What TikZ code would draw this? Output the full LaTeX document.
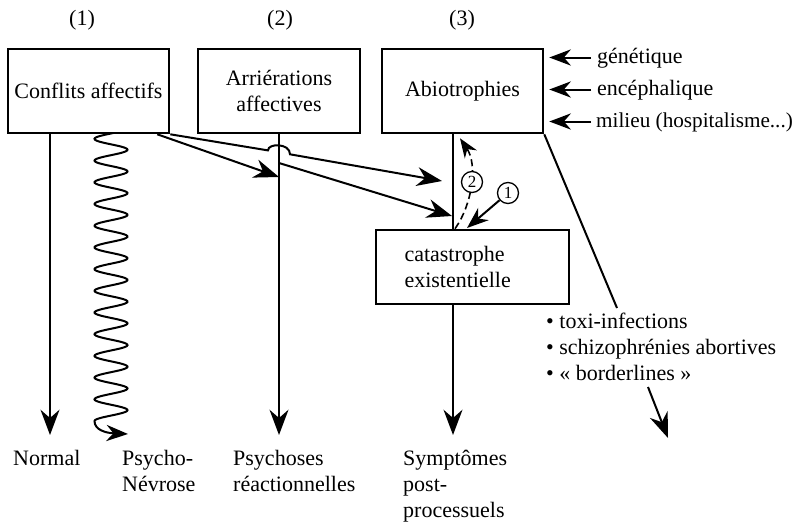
\documentclass[tikz,border=0pt]{standalone}
\usepackage{fontspec}
\setmainfont{Liberation Serif}
\usetikzlibrary{arrows.meta,calc}
\begin{document}
\begin{tikzpicture}[x=1pt,y=-1pt,
  txt/.style={font=\fontsize{22}{26}\selectfont, inner sep=0pt},
  box/.style={draw, line width=2.6pt, txt, align=center},
  ln/.style={line width=2pt},
  arr/.style={ln, -{Stealth[scale=2.1]}},
  sarr/.style={ln, -{Stealth[scale=1.8]}},
  darr/.style={line width=1.6pt, dash pattern=on 7pt off 4pt, -{Stealth[scale=1.9]}},
  circ/.style={circle, draw, solid, fill=white, line width=1.3pt, minimum size=21pt, inner sep=0pt, font=\fontsize{17}{17}\selectfont}
]
\useasboundingbox (0,0) rectangle (798,525);

% column numbers
\node[txt] (n1) at (82,20) {(1)};
\node[txt] (n2) at (280,20) {(2)};
\node[txt] (n3) at (462,20) {(3)};

% boxes
\node[box, minimum width=161pt, minimum height=84pt] (b1) at (88.5,91) {Conflits affectifs};
\node[box, minimum width=162pt, minimum height=84pt] (b2) at (279,91) {Arriérations\\affectives};
\node[box, minimum width=161pt, minimum height=84pt] (b3) at (462.5,91) {Abiotrophies};
\node[box, align=left, text width=136pt, minimum width=193pt, minimum height=74pt] (b4) at (472.5,267) {catastrophe\\existentielle};

% causes of box 3
\node[txt, anchor=base west] (gen) at (597,63) {génétique};
\node[txt, anchor=base west] (enc) at (597,95) {encéphalique};
\node[txt, anchor=base west, font=\fontsize{21.2}{26}\selectfont] (mil) at (596,127) {milieu (hospitalisme...)};
\draw[sarr] ($(gen.base west)+(-6,-5.5)$) -- ($(b3.east |- gen.base west)+(5,-5.5)$);
\draw[sarr] ($(enc.base west)+(-6,-5.5)$) -- ($(b3.east |- enc.base west)+(5,-5.5)$);
\draw[sarr] ($(mil.base west)+(-5,-5.5)$) -- ($(b3.east |- mil.base west)+(5,-5.5)$);

% bullet list
\node[txt, anchor=north west, align=left] (lst) at (546,313) {• toxi-infections\\• schizophrénies abortives\\• «~borderlines~»};

% bottom labels
\node[txt, anchor=base west] (normal) at (13,465) {Normal};
\node[txt, anchor=north west, align=left] (psy) at (122,450) {Psycho-\\Névrose};
\node[txt, anchor=north west, align=left] (pr) at (233,450) {Psychoses\\réactionnelles};
\node[txt, anchor=north west, align=left] (sym) at (403,450) {Symptômes\\post-\\processuels};

% coordinates
\coordinate (e1) at (50,435);
\coordinate (e2) at (279,435);
\coordinate (e4) at (453,435);
\coordinate (m2) at (279,177);
\coordinate (s2) at (279,163);
\coordinate (t3) at (442,181);
\coordinate (t4) at (452,216);
\coordinate (hl) at (268,150.4);
\coordinate (hr) at (290,154.3);
\coordinate (t1) at (467,228);
\coordinate (le) at (617,308);
\coordinate (ba) at (648,387);
\coordinate (bb) at (668,438);

% vertical arrows
\draw[arr] (b1.south -| e1) -- (e1);
\draw[arr] (b2.south) -- (e2);
\draw[arr] (b4.south -| e4) -- (e4);
\draw[ln] (b3.south -| e4) -- (b4.north -| e4);

% wavy arrow
\draw[sarr]
  plot[domain=133:421, samples=400, variable=\t] ({111-16.5*cos((421-\t)*16.59)}, \t)
  .. controls (94.5,430) and (106,433) .. (128,434);

% diagonal arrows
\draw[arr] ([xshift=-13pt]b1.south east) -- (m2);
\draw[arr] (b1.south east) -- (hl) .. controls ($(hl)+(0,-7.4)$) and ($(hr)+(0,-11.3)$) .. (hr) -- (t3);
\draw[arr] (s2) -- (t4);

% dashed return arrow and circled numbers
\draw[darr] ([xshift=-17.5pt]b4.north) .. controls (472,205) and (478,165) .. ([xshift=-2.5pt,yshift=-4pt]b3.south);
\node[circ] (c2) at (472,182) {2};
\node[circ] (c1) at (508,193) {1};
\draw[sarr] (c1) -- (t1);

% line to the list and arrow below it
\draw[ln] (b3.south east) -- (le);
\draw[arr] (ba) -- (bb);
\end{tikzpicture}
\end{document}
